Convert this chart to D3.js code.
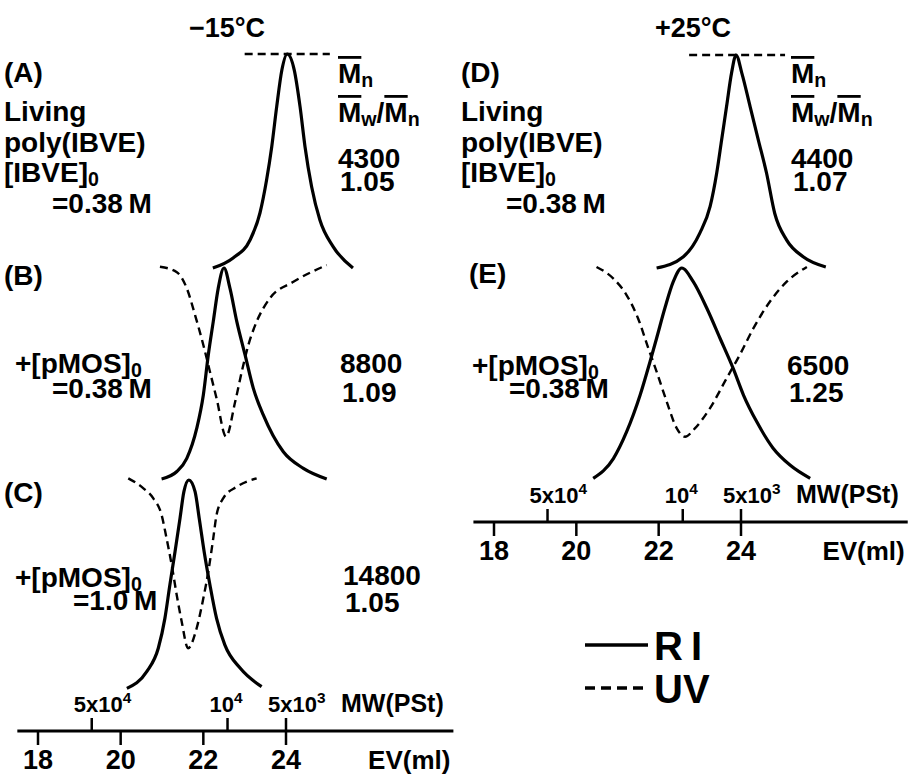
<!DOCTYPE html>
<html>
<head>
<meta charset="utf-8">
<script src="https://cdn.jsdelivr.net/npm/d3@7"></script>
<style>
    body { margin: 0; background: #fff; }
    svg text { font-family: "Liberation Sans", Arial, sans-serif; font-weight: bold; fill: #000; }
</style>
</head>
<body>
<svg id="chart"></svg>
<script>
// GPC traces: [EV (ml), relative signal]
var riA = [[22.23,0],[22.72,0.047],[23.13,0.131],[23.37,0.257],[23.53,0.411],[23.655,0.567],[23.775,0.754],[23.9,0.925],[24.03,1],[24.2,0.925],[24.34,0.754],[24.46,0.567],[24.62,0.38],[24.82,0.224],[25.14,0.1],[25.62,0]];
var uvA = [[23.0,1],[25.06,1]];
var riB = [[20.99,0.005],[21.36,0.04],[21.6,0.102],[21.84,0.243],[22.0,0.401],[22.12,0.59],[22.24,0.747],[22.36,0.904],[22.5,1],[22.645,0.904],[22.81,0.747],[23.01,0.59],[23.21,0.432],[23.45,0.307],[23.935,0.133],[24.42,0.055],[24.985,0.005]];
var uvB = [[20.95,1.006],[21.36,0.98],[21.6,0.904],[21.8,0.778],[22.0,0.637],[22.16,0.511],[22.32,0.385],[22.55,0.205],[22.77,0.369],[22.93,0.511],[23.09,0.637],[23.29,0.747],[23.61,0.857],[24.18,0.935],[24.985,1.014]];
var riC = [[20.15,0.003],[20.63,0.083],[20.91,0.195],[21.07,0.338],[21.19,0.498],[21.315,0.657],[21.436,0.817],[21.53,0.944],[21.65,1],[21.8,0.944],[21.9,0.817],[22.02,0.657],[22.16,0.498],[22.32,0.338],[22.52,0.211],[22.89,0.1],[23.41,0.011]];
var uvC = [[20.185,1.008],[20.55,0.96],[20.79,0.912],[20.99,0.833],[21.11,0.721],[21.235,0.593],[21.356,0.45],[21.477,0.322],[21.63,0.195],[21.84,0.292],[22.0,0.434],[22.12,0.561],[22.24,0.721],[22.32,0.833],[22.48,0.912],[22.81,0.968],[23.29,1.008]];
var riD = [[21.95,0],[22.6,0.053],[23.0,0.164],[23.25,0.289],[23.41,0.446],[23.53,0.602],[23.65,0.759],[23.77,0.915],[23.88,1],[24.02,0.915],[24.22,0.759],[24.42,0.602],[24.62,0.446],[24.82,0.256],[25.11,0.131],[25.51,0.053],[26.06,0.005]];
var uvD = [[22.74,1],[25.07,1]];
var riE = [[20.41,0.003],[20.9,0.097],[21.22,0.223],[21.55,0.398],[21.79,0.556],[21.95,0.667],[22.15,0.809],[22.355,0.935],[22.56,1],[22.84,0.935],[23.17,0.809],[23.49,0.667],[23.81,0.524],[24.06,0.398],[24.38,0.272],[24.78,0.146],[25.19,0.066],[25.68,0.003]];
var uvE = [[20.49,1.005],[20.9,0.95],[21.22,0.872],[21.5,0.761],[21.75,0.619],[21.95,0.509],[22.195,0.367],[22.44,0.24],[22.64,0.2],[22.88,0.24],[23.245,0.335],[23.65,0.477],[23.97,0.588],[24.3,0.714],[24.7,0.84],[25.11,0.935],[25.6,1.005]];

var mnValues = ['4300', '8800', '14800', '4400', '6500'];
var pdiValues = ['1.05', '1.09', '1.05', '1.07', '1.25'];
var evTicks = [18, 20, 22, 24];
var mwTicks = [5e4, 1e4, 5e3];
var mwTickLabels = [['5x10', '4'], ['10', '4'], ['5x10', '3']];

(function () {
    var svg = d3.select('#chart').attr('width', 908).attr('height', 774);

    // one EV scale per column, same calibration
    var xLeft = d3.scaleLinear().domain([18, 24]).range([38, 286]);
    var xRight = d3.scaleLinear().domain([18, 24]).range([494, 741]);

    var panels = [
        { ri: riA, uv: uvA, x: xLeft, y: [268, 54] },
        { ri: riB, uv: uvB, x: xLeft, y: [480, 268] },
        { ri: riC, uv: uvC, x: xLeft, y: [689, 480] },
        { ri: riD, uv: uvD, x: xRight, y: [268, 55] },
        { ri: riE, uv: uvE, x: xRight, y: [479, 268] }
    ];

    panels.forEach(function (p) {
        var y = d3.scaleLinear().domain([0, 1]).range(p.y);
        var line = d3.line()
            .x(function (d) { return p.x(d[0]); })
            .y(function (d) { return y(d[1]); })
            .curve(d3.curveMonotoneX);

        svg.append('path')
            .attr('d', line(p.uv))
            .attr('fill', 'none')
            .attr('stroke', '#000')
            .attr('stroke-width', 2.4)
            .attr('stroke-dasharray', '8,5');

        svg.append('path')
            .attr('d', line(p.ri))
            .attr('fill', 'none')
            .attr('stroke', '#000')
            .attr('stroke-width', 3.2);
    });

    // helper: text with sub/superscripts and overbars
    function label(x, y, size, pieces, anchor) {
        var t = svg.append('text')
            .attr('x', x).attr('y', y)
            .attr('font-size', size)
            .attr('text-anchor', anchor || 'start');
        var shift = 0;
        pieces.forEach(function (pc) {
            if (typeof pc === 'string') pc = { t: pc };
            var target = pc.sub ? size * 0.14 : pc.sup ? -size * 0.42 : 0;
            var ts = t.append('tspan')
                .attr('dy', target - shift)
                .attr('font-size', pc.sub || pc.sup ? size * 0.7 : size)
                .text(pc.t);
            if (pc.bar) ts.style('text-decoration', 'overline');
            shift = target;
        });
        return t;
    }

    // temperature headings
    label(227, 37, 27, ['\u221215\u00b0C'], 'middle');
    label(693, 37, 27, ['+25\u00b0C'], 'middle');

    var fs = 28;
    // left column
    label(4, 82, fs, ['(A)']);
    label(4, 121, fs, ['Living']);
    label(4, 152, fs, ['poly(IBVE)']);
    label(4, 182, fs, ['[IBVE]', { t: '0', sub: true }]);
    label(52, 213, fs, ['=0.38\u2009M']);
    label(4, 285, fs, ['(B)']);
    label(15, 373, fs, ['+[pMOS]', { t: '0', sub: true }]);
    label(52, 398, fs, ['=0.38\u2009M']);
    label(4, 502, fs, ['(C)']);
    label(15, 587, fs, ['+[pMOS]', { t: '0', sub: true }]);
    label(73, 610, fs, ['=1.0\u2009M']);

    // right column
    label(461, 82, fs, ['(D)']);
    label(461, 121, fs, ['Living']);
    label(461, 152, fs, ['poly(IBVE)']);
    label(461, 182, fs, ['[IBVE]', { t: '0', sub: true }]);
    label(506, 213, fs, ['=0.38\u2009M']);
    label(469, 283, fs, ['(E)']);
    label(472, 375, fs, ['+[pMOS]', { t: '0', sub: true }]);
    label(509, 398, fs, ['=0.38\u2009M']);

    // Mn and Mw/Mn columns
    [338, 791].forEach(function (x) {
        label(x, 83, fs, [{ t: 'M', bar: true }, { t: 'n', sub: true }]);
        label(x, 122, fs, [{ t: 'M', bar: true }, { t: 'w', sub: true }, '/', { t: 'M', bar: true }, { t: 'n', sub: true }]);
    });
    var valuePos = [[338, 168, 191], [340, 373, 402], [343, 585, 612], [791, 168, 191], [787, 375, 402]];
    valuePos.forEach(function (v, i) {
        label(v[0], v[1], fs, [mnValues[i]]);
        label(v[0] + 2, v[2], fs, [pdiValues[i]]);
    });

    // EV / MW axes under each column
    function axes(x, yAxis, spanHi) {
        var mw = d3.scaleLog().domain([5e4, 5e3]).range([x(19.3), x(24)]);

        svg.append('line')
            .attr('x1', x(17.5)).attr('x2', x(spanHi))
            .attr('y1', yAxis).attr('y2', yAxis)
            .attr('stroke', '#000').attr('stroke-width', 3);

        svg.selectAll(null).data(evTicks).enter().append('line')
            .attr('x1', function (d) { return x(d); })
            .attr('x2', function (d) { return x(d); })
            .attr('y1', yAxis).attr('y2', yAxis + 14)
            .attr('stroke', '#000').attr('stroke-width', 2.5);

        evTicks.forEach(function (d) {
            label(x(d), yAxis + 38, 27, [String(d)], 'middle');
        });
        label(x(spanHi) - 3, yAxis + 38, 26, ['EV(ml)'], 'end');

        svg.selectAll(null).data(mwTicks).enter().append('line')
            .attr('x1', function (d) { return mw(d); })
            .attr('x2', function (d) { return mw(d); })
            .attr('y1', yAxis).attr('y2', yAxis - 13)
            .attr('stroke', '#000').attr('stroke-width', 2.5);

        mwTicks.forEach(function (d, i) {
            label(mw(d) - 18, yAxis - 19, 22, [mwTickLabels[i][0], { t: mwTickLabels[i][1], sup: true }]);
        });
        label(x(24) + 55, yAxis - 19, 25, ['MW(PSt)']);
    }
    axes(xLeft, 731, 28.05);
    axes(xRight, 522, 28.05);

    // legend
    svg.append('line').attr('x1', 585).attr('x2', 648).attr('y1', 645).attr('y2', 645)
        .attr('stroke', '#000').attr('stroke-width', 3.5);
    svg.append('line').attr('x1', 585).attr('x2', 648).attr('y1', 688).attr('y2', 688)
        .attr('stroke', '#000').attr('stroke-width', 3.5).attr('stroke-dasharray', '10,6');
    label(654, 660, 40, ['R\u2009I']);
    label(654, 703, 40, ['UV']);
}());
</script>
</body>
</html>
